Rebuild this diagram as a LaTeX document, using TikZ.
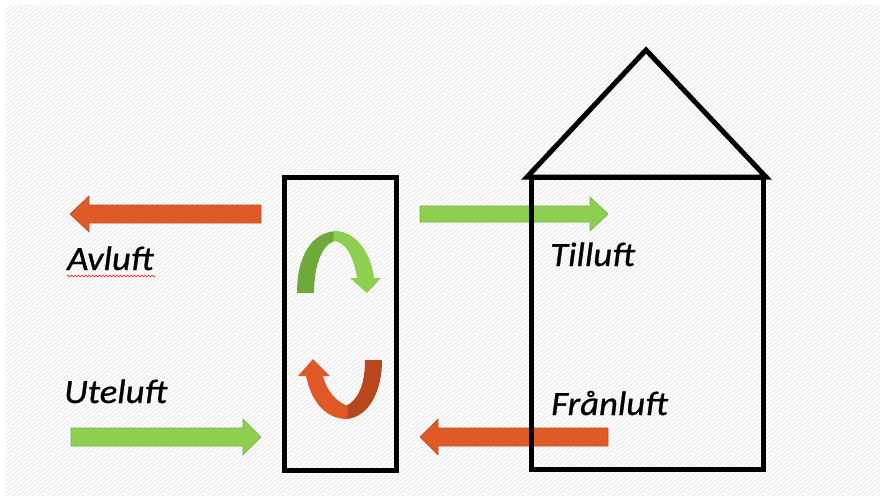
\documentclass[tikz,border=0pt]{standalone}
\usepackage{fontspec}
\setmainfont{Carlito}
\newfontfamily\lblfont[FakeStretch=1.08,FakeBold=0.8]{Carlito}
\usetikzlibrary{decorations.pathmorphing}
\definecolor{bgray}{HTML}{E9E9E9}
\definecolor{ared}{HTML}{E05A28}
\definecolor{aredd}{HTML}{B8461F}
\definecolor{agreen}{HTML}{8DCF4F}
\definecolor{agreend}{HTML}{6EAA3A}
\tikzset{
  wall/.style={line width=5pt, line join=miter, black},
  redblock/.style={fill=ared, draw=ared!85!black, line width=0.6pt},
  greenblock/.style={fill=agreen, draw=agreen!85!black, line width=0.6pt},
  lbl/.style={font=\lblfont\fontsize{34}{34}\selectfont\itshape, anchor=base west, inner sep=0pt}
}
\begin{document}
\begin{tikzpicture}[x=1pt,y=-1pt]
\useasboundingbox (0,0) rectangle (880,496);
% background
\begin{scope}
\clip (6,5) rectangle (880,496);
\fill[bgray] (6,5) rectangle (880,496);
\foreach \i in {0,5,...,1500}{
  \draw[white, line width=2pt] (\i-600,500) -- (\i,0);
}
\end{scope}
% block arrows
\fill[redblock] (261,205) -- (89,205) -- (89,196) -- (70,214) -- (89,232) -- (89,223) -- (261,223) -- cycle;
\fill[greenblock] (420,206) -- (590,206) -- (590,197) -- (608,214) -- (590,231) -- (590,222) -- (420,222) -- cycle;
\fill[greenblock] (71,428) -- (243,428) -- (243,419) -- (261,437) -- (243,455) -- (243,446) -- (71,446) -- cycle;
\fill[redblock] (608,428) -- (438,428) -- (438,419) -- (420,437) -- (438,455) -- (438,446) -- (608,446) -- cycle;
% exchanger box
\coordinate (exA) at (284,177);
\coordinate (exB) at (396,470);
\draw[wall] (exA) rectangle (exB);
% house
\coordinate (hA) at (531,177);
\coordinate (hB) at (763,469);
\coordinate (roofL) at (527,177);
\coordinate (roofR) at (766,177);
\coordinate (apex) at (646,50);
\draw[wall] (hA) rectangle (hB);
\draw[wall] (roofL) -- (apex) -- (roofR) -- cycle;
% curved green arrow
\fill[agreend] (297,293) .. controls (297,250) and (316,231) .. (338,231)
  -- (335,241) .. controls (322,244) and (314,266) .. (314,293) -- cycle;
\fill[agreen] (334,231) .. controls (357,231) and (371,254) .. (374,278)
  -- (381,278) -- (367,293) -- (350,278) -- (357,278)
  .. controls (354,258) and (346,241) .. (333,241) -- cycle;
% curved red arrow
\fill[aredd] (382,360) .. controls (382,398) and (364,419) .. (345,419)
  -- (346,406) .. controls (358,400) and (365,385) .. (365,360) -- cycle;
\fill[ared] (306,376) .. controls (312,405) and (328,419) .. (347,419)
  -- (348,406) .. controls (337,402) and (327,392) .. (323,376)
  -- (330,376) -- (313,359) -- (298,376) -- cycle;
% labels
\node[lbl] (avluft) at (67,270) {Avluft};
\node[lbl] (tilluft) at (550,266) {Tilluft};
\node[lbl] (uteluft) at (64,403) {Uteluft};
\node[lbl] (franluft) at (551,415) {Frånluft};
\draw[red!80, line width=0.7pt, decorate, decoration={snake, amplitude=0.9pt, segment length=3.5pt}]
  (avluft.base west) ++(0,6) -- ++(88,0);
\end{tikzpicture}
\end{document}
